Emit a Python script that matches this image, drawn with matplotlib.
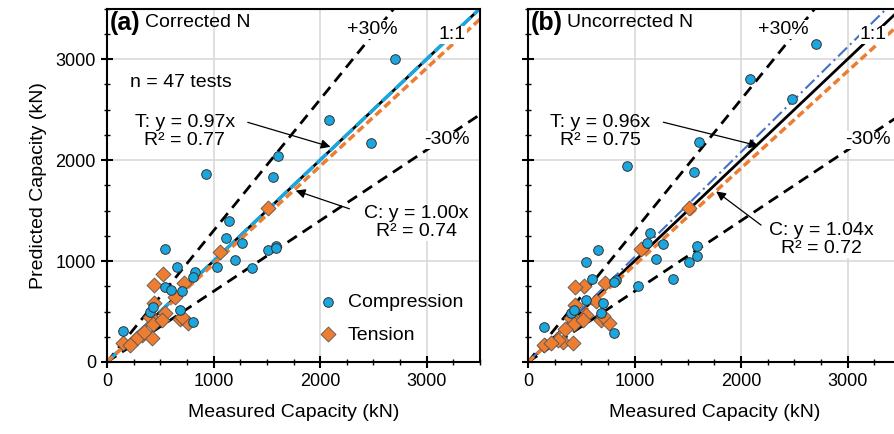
import numpy as np
import matplotlib
matplotlib.use('Agg')
import matplotlib.pyplot as plt
from matplotlib.ticker import MultipleLocator

plt.rcParams['font.family'] = ['Liberation Sans', 'DejaVu Sans']

# compression tests: measured, predicted (corrected N), predicted (uncorrected N)
comp_meas = [2700, 2080, 2480, 1605, 930, 1555, 1148, 1117, 1267, 1510, 1590, 1585, 1200,
             1030, 1360, 654, 826, 811, 545, 545, 600, 700, 685, 811, 153, 404, 435]
comp_corr = [3000, 2395, 2170, 2040, 1860, 1830, 1400, 1227, 1177, 1110, 1145, 1130, 1012,
             942, 932, 936, 896, 846, 1120, 745, 714, 703, 516, 400, 311, 499, 540]
comp_unc = [3150, 2800, 2605, 2180, 1945, 1885, 1280, 1175, 1170, 995, 1150, 1045, 1020,
            757, 823, 1111, 813, 791, 989, 610, 825, 585, 483, 284, 344, 489, 510]

# tension tests
ten_meas = [1515, 1061, 529, 444, 725, 638, 440, 545, 404, 435, 685, 763, 326, 420,
            279, 153, 216, 701, 516, 350]
ten_corr = [1525, 1086, 876, 764, 780, 640, 582, 489, 449, 377, 424, 390, 268, 235,
            235, 191, 169, 449, 420, 300]
ten_unc = [1525, 1120, 754, 747, 781, 600, 565, 466, 440, 380, 417, 384, 201, 191,
           218, 169, 191, 460, 417, 330]

# fitted slopes and R2
t_slope = [0.97, 0.96]
c_slope = [1.00, 1.04]
t_r2 = [0.77, 0.75]
c_r2 = [0.74, 0.72]

blue = '#1AA6DF'
orange = '#ED7D31'

fig = plt.figure(figsize=(8.94, 4.34), dpi=100)
ax_a = fig.add_axes([0.1197, 0.1659, 0.4172, 0.8144])
ax_b = fig.add_axes([0.5906, 0.1659, 0.4172, 0.8144])

xx = np.array([0, 3500])
wbox = dict(facecolor='white', edgecolor='none', pad=0.5)


def setup(ax):
    ax.set_xlim(0, 3500)
    ax.set_ylim(0, 3500)
    ax.xaxis.set_major_locator(MultipleLocator(1000))
    ax.yaxis.set_major_locator(MultipleLocator(1000))
    ax.xaxis.set_minor_locator(MultipleLocator(250))
    ax.yaxis.set_minor_locator(MultipleLocator(250))
    ax.tick_params(which='major', direction='inout', length=9, width=1.5, labelsize=13)
    ax.tick_params(which='minor', direction='inout', length=5, width=1)
    ax.grid(True, which='major', color='#d9d9d9', lw=1.2)
    ax.set_axisbelow(True)
    for s in ax.spines.values():
        s.set_linewidth(1.5)
    ax.set_xlabel('Measured Capacity (kN)', fontsize=14, labelpad=10)
    # +/-30 % lines
    ax.plot(xx, 1.3 * xx, color='black', lw=2, dashes=(4, 2.5))
    ax.plot(xx, 0.7 * xx, color='black', lw=2, dashes=(4, 2.5))


setup(ax_a)
setup(ax_b)
ax_a.set_ylabel('Predicted Capacity (kN)', fontsize=14, labelpad=6)
ax_b.tick_params(labelleft=False)

# panel (a)
ax_a.plot(xx, xx, color='black', lw=2)
ax_a.plot(xx, c_slope[0] * xx, color=blue, lw=2.5, dashes=(4, 1.2))
ax_a.plot(xx, t_slope[0] * xx, color=orange, lw=2.5, dashes=(2.3, 1.2))
ax_a.scatter(comp_meas, comp_corr, s=48, color=blue, edgecolor='#333333', lw=0.7, zorder=5,
             label='Compression')
ax_a.scatter(ten_meas, ten_corr, s=58, marker='D', color=orange, edgecolor='#555555', lw=0.6,
             zorder=4, label='Tension')

# panel (b)
ax_b.plot(xx, xx, color='black', lw=2)
ax_b.plot(xx, c_slope[1] * xx, color='#4472C4', lw=1.5, dashes=(6, 2, 1, 2))
ax_b.plot(xx, t_slope[1] * xx, color=orange, lw=2.5, dashes=(2.3, 1.2))
ax_b.scatter(comp_meas, comp_unc, s=48, color=blue, edgecolor='#333333', lw=0.7, zorder=5)
ax_b.scatter(ten_meas, ten_unc, s=58, marker='D', color=orange, edgecolor='#555555', lw=0.6,
             zorder=4)

leg = ax_a.legend(loc='upper left', bbox_to_anchor=(0.52, 0.215), frameon=False, fontsize=14,
                  handletextpad=0.0, labelspacing=0.75, borderaxespad=0)

arrow = dict(arrowstyle='-|>', color='black', lw=0.9, mutation_scale=14)

for ax, tag, title, i, tpos, ttail, thead, cpos, ctail, chead, plus in [
        (ax_a, '(a)', 'Corrected N', 0, (730, 2280), (1296, 2381), (2122, 2123),
         (2900, 1380), (2300, 1508), (1746, 1706), 2490),
        (ax_b, '(b)', 'Uncorrected N', 1, (680, 2280), (1245, 2381), (2189, 2133),
         (2755, 1210), (2208, 1339), (1745, 1706), 2400)]:
    ax.text(25, 3360, tag, fontsize=18, fontweight='bold', va='center')
    ax.text(360 if i == 0 else 370, 3360, title, fontsize=14, va='center')
    ax.text(plus, 3290, '+30%', fontsize=14, ha='center', va='center', bbox=wbox, zorder=3)
    ax.text(3240, 3240, '1:1', fontsize=14, ha='center', va='center', bbox=wbox, zorder=3)
    ax.text(3190, 2200, '-30%', fontsize=14, ha='center', va='center', bbox=wbox, zorder=3)
    ax.text(tpos[0], tpos[1], f'T: y = {t_slope[i]:.2f}x\nR² = {t_r2[i]:.2f}', fontsize=14,
            ha='center', va='center', multialignment='center', linespacing=1.1)
    ax.annotate('', xy=thead, xytext=ttail, arrowprops=arrow, zorder=6)
    ax.text(cpos[0], cpos[1], f'C: y = {c_slope[i]:.2f}x\nR² = {c_r2[i]:.2f}', fontsize=14,
            ha='center', va='center', multialignment='center', linespacing=1.1,
            bbox=wbox, zorder=3)
    ax.annotate('', xy=chead, xytext=ctail, arrowprops=arrow, zorder=6)

ax_a.text(215, 2770, 'n = 47 tests', fontsize=14, va='center')

fig.savefig('out.png', dpi=100)
